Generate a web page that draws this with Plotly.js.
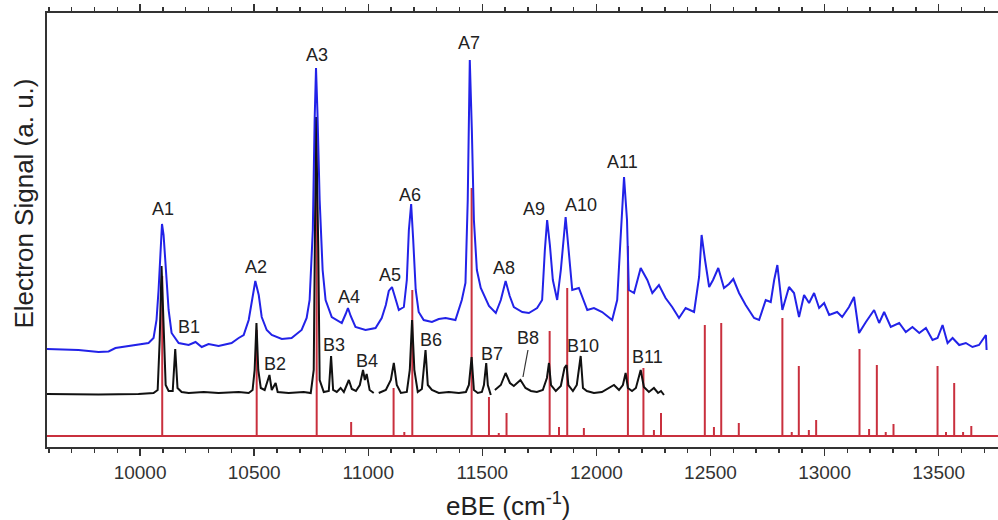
<!DOCTYPE html>
<html><head><meta charset="utf-8">
<script src="https://cdn.plot.ly/plotly-3.0.1.min.js"></script>
<style>html,body{margin:0;padding:0;background:#fff}#chart{width:998px;height:520px}</style>
</head><body><div id="chart"></div>
<script>
// eBE axis range (cm^-1)
const xRange = [9592, 13760];

// Blue: experimental spectrum (offset)
const blueX = [9590,9730,9818,9862,9892,9971,10037,10059,10072,10081,10090,10096,10103,10112,10125,10138,10169,10213,10243,10270,10300,10344,10401,10432,10454,10476,10489,10505,10520,10533,10555,10577,10621,10664,10708,10730,10743,10757,10765,10771,10777,10787,10800,10813,10840,10884,10901,10911,10923,10944,10988,11032,11059,11077,11090,11104,11121,11134,11156,11169,11178,11188,11197,11208,11221,11243,11279,11309,11339,11382,11410,11426,11436,11445,11454,11463,11476,11493,11529,11559,11581,11602,11620,11638,11675,11704,11740,11762,11774,11784,11796,11809,11828,11844,11865,11879,11894,11923,11945,11960,11989,12025,12069,12091,12103,12121,12134,12142,12165,12194,12223,12245,12274,12303,12332,12362,12391,12428,12450,12461,12476,12494,12511,12534,12559,12581,12600,12625,12654,12691,12713,12742,12764,12779,12793,12815,12844,12866,12888,12910,12932,12954,12976,12998,13020,13055,13077,13107,13129,13151,13181,13217,13239,13261,13290,13327,13356,13385,13415,13444,13473,13495,13517,13539,13561,13590,13619,13648,13677,13707,13710];
const blueY = [98,97,95,95.5,99,102,104,109,127,157,207,223,212,177,137,114,104,102,105,100,103,101,104,109,112,127,144,166,152,130,117,112,108,109,117,129,147,217,327,379,337,247,177,147,130,124,133,139,131,120,117,119,129,142,156,160,147,137,140,167,217,243,207,157,135,127,125,128,129,127,147,164,247,387,317,227,177,159,141,134,147,166,151,140,135,134,139,147,197,227,202,167,147,177,230,197,157,159,147,137,139,135,127,147,197,270,227,157,154,179,167,154,162,149,140,129,139,135,170,212,187,160,167,179,159,163,168,154,142,129,127,147,145,167,182,137,160,154,130,152,144,154,139,144,132,135,130,140,150,114,125,137,124,135,120,124,115,120,114,119,107,109,122,104,109,102,104,100,102,112,97];

// Black: second experimental spectrum (offset), null = gap
const blackX = [9590,9818,9993,10059,10077,10086,10094,10103,10112,10125,10143,10154,10164,10182,10213,10279,10344,10432,10476,10493,10502,10510,10518,10529,10546,10567,10577,10594,10603,10651,10717,10748,10761,10771,10781,10787,10805,10827,10837,10846,10862,10879,10893,10915,10928,10946,10963,10977,10985,10993,11006,11024,null,11046,11077,11099,11112,11125,11143,11169,11182,11192,11202,11217,11235,11251,11261,11279,11309,11353,11397,11428,11441,11453,11463,11480,11498,11507,11517,11524,11537,null,11555,11581,11602,11621,11638,11667,11689,11713,11739,11765,11783,11792,11801,11822,11844,11860,11869,11877,11897,11914,11931,11941,11958,11989,12024,12055,12077,12099,12116,12128,12138,12156,12173,12194,12208,12230,12252,12270,12283,12296];
const blackY = [53,52.5,53,54,57,107,181,117,62,56,56,98,59,55,54,55,54,55,54,57,77,124,77,59,57,72,57,64,55,54,55,54,77,330,197,67,55,56,91,57,55,59,55,67,58,56,62,77,67,73,57,54,null,54,57,67,84,62,54,55,77,127,77,55,58,97,62,57,54,55,54,55,62,90,57,54,55,62,84,62,52,null,57,62,74,64,61,67,59,56,55,57,69,84,62,56,61,79,82,62,56,62,91,59,56,54,55,59,62,57,62,74,59,56,59,77,60,55,59,54,56,52];

// Red: calculated stick spectrum (positions and intensities above its baseline)
const stickBase = 11;
const stickX = [10097,10511,10774,10925,11111,11158,11193,11453,11529,11572,11606,11795,11836,11872,11945,12138,12206,12252,12283,12475,12515,12547,12624,12815,12856,12887,12931,12963,13153,13195,13229,13268,13302,13495,13532,13568,13607,13643];
const stickH = [160,106,311,14,48,4,146,248,39,3,23,105,9,148,8,190,68,6,23,111,9,113,13,118,4,70,6,16,87,7,71,4,12,70,4,53,4,10];

// Peak labels
const labelText = ["A1","B1","A2","B2","A3","B3","A4","B4","A5","A6","B6","A7","B7","A8","B8","A9","A10","B10","A11","B11"];
const labelX = [10099,10213,10507,10590,10774,10849,10915,10994,11097,11184,11274,11443,11542,11594,11702,11726,11932,11939,12114,12222];
const labelY = [238,120,180,83,392,102,150,86,172,252,107,404,93,179,109,238,242,101,285,90];

const xTitle = "eBE (cm<sup>-1</sup>)";
const yTitle = "Electron Signal (a. u.)";

const FONT = "Liberation Sans, Arial, Helvetica, sans-serif";
const RED = "#c9303e", BLUE = "#2222e8", BLACK = "#111111";

const sx = [], sy = [];
stickX.forEach((x, i) => { sx.push(x, x, null); sy.push(stickBase, stickBase + stickH[i], null); });

const traces = [
  {x: xRange, y: [stickBase, stickBase], mode: "lines", line: {color: RED, width: 2}, hoverinfo: "skip"},
  {x: sx, y: sy, mode: "lines", line: {color: RED, width: 2}, connectgaps: false},
  {x: blackX, y: blackY, mode: "lines", line: {color: BLACK, width: 2}, connectgaps: false},
  {x: blueX, y: blueY, mode: "lines", line: {color: BLUE, width: 2}}
];

const annotations = labelText.map((t, i) => ({
  x: labelX[i], y: labelY[i], text: t, showarrow: false,
  font: {family: FONT, size: 18, color: "#222"}
}));
annotations.push({xref: "paper", yref: "paper", x: 0.4853, y: -0.133, xanchor: "center", yanchor: "middle",
  text: xTitle, showarrow: false, font: {family: FONT, size: 26, color: "#222"}});
annotations.push({xref: "paper", yref: "paper", x: -0.0242, y: 0.561, xanchor: "center", yanchor: "middle",
  textangle: -90, text: yTitle, showarrow: false, font: {family: FONT, size: 26, color: "#222"}});

const layout = {
  width: 998, height: 520,
  margin: {l: 47, r: 0, t: 13, b: 73},
  paper_bgcolor: "#fff", plot_bgcolor: "#fff",
  showlegend: false,
  font: {family: FONT, color: "#222"},
  xaxis: {
    range: xRange, dtick: 500, tick0: 10000, tickformat: "d",
    ticks: "outside", ticklen: 7, tickwidth: 1.5, tickcolor: "#333",
    minor: {dtick: 100, ticks: "outside", ticklen: 4, tickwidth: 1.5, tickcolor: "#333"},
    showline: true, linecolor: "#333", linewidth: 2, mirror: "allticks",
    showgrid: false, zeroline: false,
    tickfont: {family: FONT, size: 19, color: "#333"},
    ticklabelstandoff: 0
  },
  yaxis: {
    range: [0, 434], showticklabels: false,
    showline: true, linecolor: "#333", linewidth: 2,
    showgrid: false, zeroline: false
  },
  annotations: annotations,
  shapes: [{type: "line", xref: "x", yref: "y", x0: 11700, y0: 97, x1: 11678, y1: 70, line: {color: "#333", width: 1.2}}]
};

Plotly.newPlot("chart", traces, layout, {displayModeBar: false, staticPlot: true});
</script>
</body></html>
